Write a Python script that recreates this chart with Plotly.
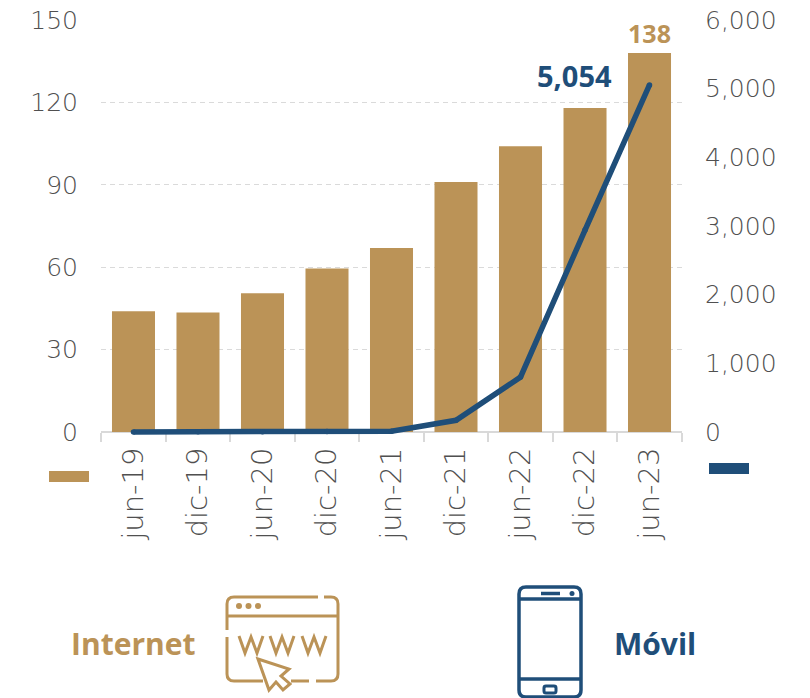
import plotly.graph_objects as go

W, H = 810, 698
categories = ["jun-19", "dic-19", "jun-20", "dic-20", "jun-21", "dic-21", "jun-22", "dic-22", "jun-23"]
internet = [44, 43.5, 50.5, 59.5, 67, 91, 104, 118, 138]
movil = [1, 2, 3, 6, 12, 170, 800, 2940, 5054]
left_ticks = [0, 30, 60, 90, 120, 150]
right_ticks = [0, 1000, 2000, 3000, 4000, 5000, 6000]
GOLD = "#BB9357"
BLUE = "#1F4E79"
GREY = "#505050"
FONT = "DejaVu Sans"
BOLD = "Open Sans"


def px(x):
    return x / W


def py(y):
    return 1 - y / H


def path(d):
    """d: list of (cmd, x, y, ...) in pixel coordinates -> paper-ref path."""
    out = []
    for seg in d:
        cmd, nums = seg[0], seg[1:]
        pts = []
        for i in range(0, len(nums), 2):
            pts.append(f"{px(nums[i]):.5f},{py(nums[i+1]):.5f}")
        out.append(cmd + " ".join(pts))
    return " ".join(out)


def stroke(d, color, width=3, fill=None):
    return dict(type="path", xref="paper", yref="paper", path=path(d),
                line=dict(color=color, width=width),
                fillcolor=fill if fill else "rgba(0,0,0,0)", layer="above")


def dot(cx, cy, r, color):
    return dict(type="circle", xref="paper", yref="paper",
                x0=px(cx - r), x1=px(cx + r), y0=py(cy + r), y1=py(cy - r),
                fillcolor=color, line=dict(width=0), layer="above")


def rrect(x0, y0, x1, y1, r):
    return [("M", x0 + r, y0), ("L", x1 - r, y0), ("Q", x1, y0, x1, y0 + r), ("L", x1, y1 - r),
            ("Q", x1, y1, x1 - r, y1), ("L", x0 + r, y1), ("Q", x0, y1, x0, y1 - r),
            ("L", x0, y0 + r), ("Q", x0, y0, x0 + r, y0), ("Z",)]


shapes = []
# legend swatches
for (x0, y0, x1, y1, c) in [(49, 471, 89, 482, GOLD), (709, 463, 749, 474, BLUE)]:
    shapes.append(dict(type="rect", xref="paper", yref="paper", x0=px(x0), x1=px(x1),
                       y0=py(y1), y1=py(y0), fillcolor=c, line=dict(width=0)))

# browser icon
shapes += [
    stroke([("M", 318, 597), ("L", 234, 597), ("Q", 227, 597, 227, 604), ("L", 227, 630)], GOLD),
    stroke([("M", 324, 597), ("L", 331, 597), ("Q", 338, 597, 338, 604), ("L", 338, 674),
            ("Q", 338, 681, 331, 681), ("L", 316, 681)], GOLD),
    stroke([("M", 309, 681), ("L", 291, 681)], GOLD),
    stroke([("M", 263, 681), ("L", 234, 681), ("Q", 227, 681, 227, 674), ("L", 227, 637)], GOLD),
    stroke([("M", 227, 616), ("L", 338, 616)], GOLD),
    dot(239, 606, 3, GOLD), dot(248.5, 606, 3, GOLD), dot(258, 606, 3, GOLD),
]
for x0 in (239, 270, 302):
    shapes.append(stroke([("M", x0, 636), ("L", x0 + 6, 653), ("L", x0 + 12, 637), ("L", x0 + 18, 653),
                          ("L", x0 + 24, 636)], GOLD))
shapes.append(stroke([("M", 258, 659), ("L", 289, 669), ("L", 281, 676), ("L", 290, 684), ("L", 283, 690),
                      ("L", 276, 682), ("L", 269, 690), ("Z",)], GOLD))

# phone icon
shapes += [
    stroke(rrect(519, 587, 581, 697, 7), BLUE, 3.5),
    stroke([("M", 519, 599), ("L", 581, 599)], BLUE, 3.5),
    stroke([("M", 519, 679), ("L", 581, 679)], BLUE, 3.5),
    stroke([("M", 541, 593.5), ("L", 560, 593.5)], BLUE, 3.5),
    dot(572, 593.5, 2.5, BLUE),
    stroke(rrect(544, 686, 556, 693, 2), BLUE, 3),
]

tick_font = dict(family=FONT, size=25, color=GREY, weight=200)
x_font = dict(family=FONT, size=29, color=GREY, weight=200)

# the plot area runs a little below zero so the thick line at the baseline is not clipped
Y_PAD = 3
BOTTOM = 432 + Y_PAD * 412 / 150

fig = go.Figure()
fig.add_bar(x=categories, y=internet, marker=dict(color=GOLD, line=dict(width=0)), width=0.667,
            text=[""] * 8 + [str(internet[-1])], textposition="outside", cliponaxis=False,
            textfont=dict(family=BOLD, size=27, color=GOLD, weight=700), name="Internet")
fig.add_scatter(x=categories, y=movil, yaxis="y2", mode="lines+markers",
                line=dict(color=BLUE, width=5.5), marker=dict(color=BLUE, size=5.5), name="Móvil", cliponaxis=False)

fig.update_layout(
    width=W, height=H, autosize=False, showlegend=False, paper_bgcolor="white", plot_bgcolor="white",
    margin=dict(l=0, r=0, t=0, b=0, pad=0), bargap=0.33, shapes=shapes,
    xaxis=dict(domain=[px(101), px(682)], type="category", tickangle=-90, tickson="boundaries", ticks="outside",
               ticklen=9, tickwidth=2, tickcolor="#D9D9D9", showline=True, linecolor="#D9D9D9", linewidth=2,
               showgrid=False, tickfont=x_font, ticklabelstandoff=3, automargin=False, layer="below traces",
               anchor="free", position=py(432)),
    yaxis=dict(domain=[py(BOTTOM), py(20)], range=[-Y_PAD, 150], tickvals=left_ticks, showgrid=True, gridcolor="#DADADA",
               griddash="5px,4px", gridwidth=1.2, zeroline=False, showline=False,
               tickfont=tick_font, ticklabelstandoff=22, automargin=False),
    yaxis2=dict(domain=[py(BOTTOM), py(20)], range=[-Y_PAD * 40, 6000], overlaying="y", side="right", tickvals=right_ticks,
                tickformat=",d", showgrid=False, zeroline=False, showline=False,
                tickfont=tick_font, ticklabelstandoff=22, automargin=False),
    annotations=[
        dict(x=categories[-1], y=movil[-1], yref="y2", xref="x", text=f"<b>{movil[-1]:,}</b>", showarrow=False,
             xshift=-75, yshift=9, font=dict(family=BOLD, size=29, color=BLUE)),
        dict(xref="paper", yref="paper", x=px(132.5), y=py(643), xanchor="center", yanchor="middle",
             text="<b>Internet</b>", showarrow=False, font=dict(family=BOLD, size=30, color=GOLD)),
        dict(xref="paper", yref="paper", x=px(654.5), y=py(643), xanchor="center", yanchor="middle",
             text="<b>Móvil</b>", showarrow=False, font=dict(family=BOLD, size=30, color=BLUE)),
    ],
)
fig.write_html("out.html", config={"displayModeBar": False},
               post_script="document.body.style.margin='0';document.documentElement.style.overflow='hidden';")
